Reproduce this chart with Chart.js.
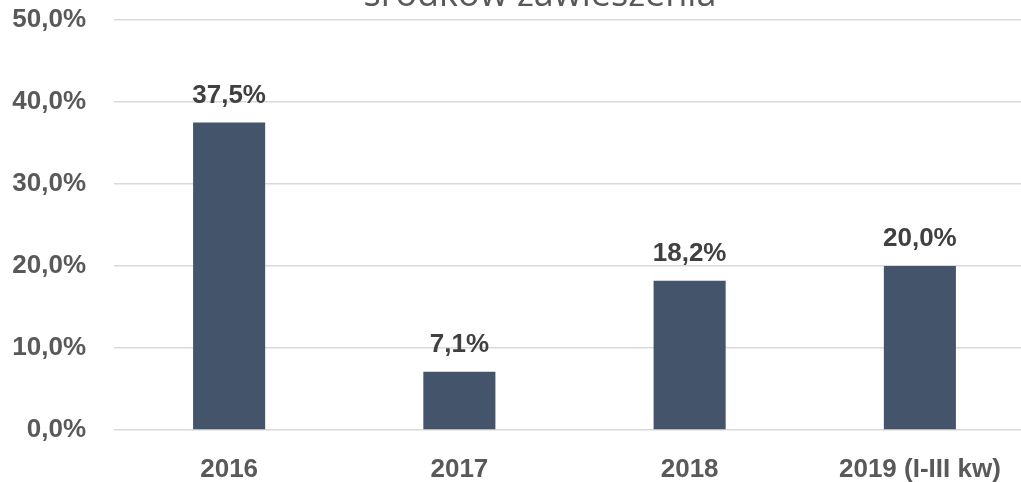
<!DOCTYPE html>
<html>
<head>
<meta charset="utf-8">
<script src="https://cdn.jsdelivr.net/npm/chart.js@4/dist/chart.umd.min.js"></script>
<style>
html,body{margin:0;padding:0;background:#fff;overflow:hidden;width:1021px;height:482px;}
canvas{position:absolute;left:0;top:0;}
</style>
</head>
<body>
<canvas id="c" width="1035" height="482"></canvas>
<script>
const titleText = "środków zawieszenia";
const categories = ["2016", "2017", "2018", "2019 (I-III kw)"];
const values = [37.5, 7.1, 18.2, 20.0];
const yTicks = [0, 10, 20, 30, 40, 50];

const FONT = "'Liberation Sans', Arial, sans-serif";
const fmt = v => v.toFixed(1).replace('.', ',') + '%';

const labelPlugin = {
  id: 'labels',
  afterDatasetsDraw(chart) {
    const ctx = chart.ctx;
    const meta = chart.getDatasetMeta(0);
    ctx.save();
    ctx.font = "bold 26px " + FONT;
    ctx.fillStyle = '#404040';
    ctx.textAlign = 'center';
    ctx.textBaseline = 'alphabetic';
    meta.data.forEach((bar, i) => {
      ctx.fillText(fmt(values[i]), bar.x, bar.y - 20);
    });
    ctx.restore();
  },
  afterDraw(chart) {
    const ctx = chart.ctx;
    ctx.save();
    ctx.font = "36px 'Open Sans', sans-serif";
    ctx.fillStyle = '#595959';
    ctx.textAlign = 'center';
    ctx.textBaseline = 'alphabetic';
    ctx.fillText(titleText, 540, 6);
    ctx.restore();
  }
};

new Chart(document.getElementById('c'), {
  type: 'bar',
  data: {
    labels: categories,
    datasets: [{
      data: values,
      backgroundColor: '#44546A',
      categoryPercentage: 1,
      barPercentage: 0.313
    }]
  },
  options: {
    responsive: false,
    animation: false,
    layout: { padding: { top: 0, right: 0, left: 12, bottom: 0 } },
    plugins: { legend: { display: false }, tooltip: { enabled: false }, title: { display: false } },
    scales: {
      x: {
        grid: { display: false, drawTicks: false },
        border: { display: false },
        ticks: { color: '#595959', font: { family: FONT, size: 26, weight: 'bold' }, padding: 24, maxRotation: 0 },
        afterFit(axis) { axis.height = 52; axis.paddingLeft = 0; axis.paddingRight = 0; }
      },
      y: {
        min: 0, max: 50,
        afterBuildTicks(axis) { axis.ticks = yTicks.map(v => ({ value: v })); },
        grid: { color: '#d9d9d9', lineWidth: 1.5, drawTicks: false },
        border: { display: false },
        ticks: { color: '#595959', font: { family: FONT, size: 26, weight: 'bold' }, padding: 28,
          callback: v => fmt(v) },
        afterFit(axis) { axis.width = 102; axis.paddingTop = 20; axis.paddingBottom = 0; }
      }
    }
  },
  plugins: [labelPlugin]
});
</script>
</body>
</html>
